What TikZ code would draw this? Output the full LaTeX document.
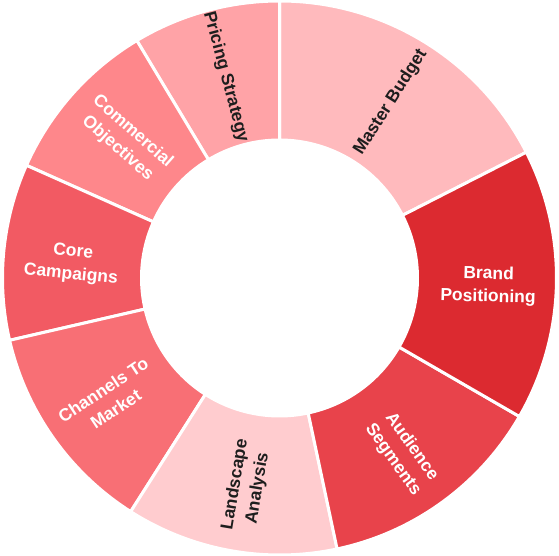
\documentclass[tikz,border=0pt]{standalone}
\usepackage{fontspec}
\setmainfont{Liberation Sans}
\definecolor{cmaster}{HTML}{FFBABD}
\definecolor{cpricing}{HTML}{FFA3A7}
\definecolor{ccommercial}{HTML}{FE878B}
\definecolor{ccore}{HTML}{F25A63}
\definecolor{cchannels}{HTML}{F86F75}
\definecolor{clandscape}{HTML}{FFCCCF}
\definecolor{caudience}{HTML}{E8434B}
\definecolor{cbrand}{HTML}{DC2A30}
\definecolor{darktext}{HTML}{1E1E1E}
\newcommand\donutseg[3]{\fill[#3, draw=white, line width=3pt] (#1:138) arc[start angle=#1,end angle=#2,radius=138] -- (#2:277) arc[start angle=#2,end angle=#1,radius=277] -- cycle;}
\begin{document}
\begin{tikzpicture}[x=1pt,y=1pt,
  lbl/.style={font=\bfseries\fontsize{17.5}{22.8}\selectfont, align=center, inner sep=0pt},
  lbldark/.style={lbl, text=darktext},
  lbllight/.style={lbl, text=white}]
\useasboundingbox (0,0) rectangle (559,556);
\begin{scope}[shift={(279.5,278)}]
\donutseg{27}{90}{cmaster}
\donutseg{90}{121}{cpricing}
\donutseg{121}{156}{ccommercial}
\donutseg{156}{193}{ccore}
\donutseg{193}{237.5}{cchannels}
\donutseg{237.5}{282}{clandscape}
\donutseg{-78}{-30}{caudience}
\donutseg{-30}{27}{cbrand}
\node[lbldark, rotate=57.7] (master) at (57.7:208) {Master Budget};
\node[lbldark, rotate=-75] (pricing) at (105:208) {Pricing Strategy};
\node[lbllight, rotate=-41.5] (commercial) at (138.2:207) {Commercial\\Objectives};
\node[lbllight, rotate=-6] (core) at (176:208) {Core\\Campaigns};
\node[lbllight, rotate=33.5] (channels) at (215.5:209) {Channels To\\Market};
\node[lbldark, rotate=80.5] (landscape) at (261:211) {Landscape\\Analysis};
\node[lbllight, rotate=-54.5] (audience) at (305:214) {Audience\\Segments};
\node[lbllight, rotate=-1.5] (brand) at (357.8:209) {Brand\\Positioning};
\end{scope}
\end{tikzpicture}
\end{document}
